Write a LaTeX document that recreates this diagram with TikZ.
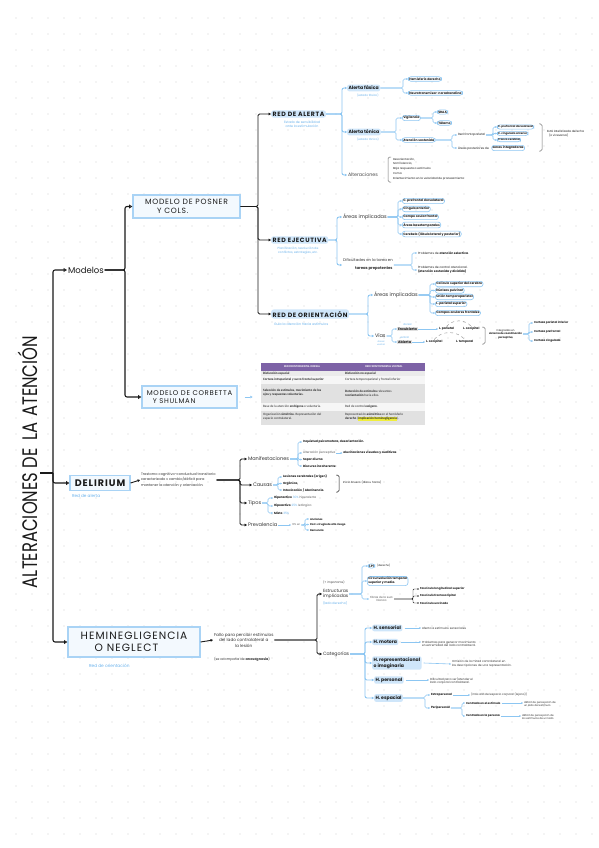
\documentclass[tikz,border=0pt]{standalone}
\usepackage{fontspec}
\usepackage{graphicx}
\setmainfont{Poppins}
\newfontfamily\tabfont{Carlito}
\newfontfamily\handcaps[LetterSpace=10]{Poppins}
\usetikzlibrary{arrows.meta,calc}
\definecolor{lb}{HTML}{8CC6F2}
\definecolor{hlb}{HTML}{CFE6FA}
\definecolor{bluetxt}{HTML}{6AB2EC}
\definecolor{boxb}{HTML}{A9D3F5}
\definecolor{boxf}{HTML}{F3F9FE}
\definecolor{dotc}{HTML}{D0D0D0}
\definecolor{purp}{HTML}{7D62A6}
\definecolor{tga}{HTML}{EBEBEB}
\definecolor{tgb}{HTML}{F6F6F6}
\definecolor{tgc}{HTML}{E1E1E1}
\definecolor{yel}{HTML}{F0EE3C}
\definecolor{ink}{HTML}{1A1A1A}
\definecolor{gtx}{HTML}{5A5A5A}
\newcommand\sz[2]{\fontsize{#1}{#2}\selectfont}
\newcommand\conn[4]{\draw[#1] (#2.east) -- (#2.east -| #3) |- (#4.west);}
\begin{document}
\begin{tikzpicture}[x=1pt,y=-1pt,
 t/.style={anchor=west, inner sep=0.8pt, text=ink, align=left},
 btx/.style={t, text=bluetxt},
 hl/.style={t, fill=hlb, rounded corners=2pt, inner sep=1.4pt, font=\bfseries\sz{4.6}{5.6}},
 net/.style={t, fill=hlb, rounded corners=2.5pt, inner sep=1.5pt, font=\handcaps\bfseries\sz{6.2}{7}},
 ov/.style={t, draw=lb, line width=0.6pt, rounded corners=2.6pt, inner sep=1pt, font=\bfseries\sz{3.1}{3.8}},
 box/.style={draw=boxb, fill=boxf, line width=1.1pt, align=left, text=ink, inner sep=2pt},
 mainarr/.style={draw=ink, line width=1.1pt, rounded corners=2pt, -{Triangle[open,length=3.4pt,width=3.8pt]}},
 blk/.style={draw=ink, line width=0.9pt, rounded corners=1.5pt, -{Triangle[length=2.4pt,width=2.6pt]}},
 tarr/.style={draw=ink, line width=0.45pt, rounded corners=1pt, -{Triangle[length=1.5pt,width=1.6pt]}},
 bl/.style={draw=lb, line width=0.9pt, rounded corners=2pt, -{Triangle[length=2.2pt,width=2.4pt]}},
 bls/.style={draw=lb, line width=0.6pt, rounded corners=1.5pt, -{Triangle[length=1.6pt,width=1.8pt]}},
 tb/.style={anchor=west, inner sep=0, align=left, font=\tabfont\sz{3.3}{4.1}, text=black!85},
 th/.style={inner sep=0, font=\tabfont\bfseries\sz{2.8}{3.2}, text=white},
 gbr/.style={draw=black!55, line width=0.5pt, rounded corners=1.5pt}
]
\useasboundingbox (0,0) rectangle (599,848);
\fill[white] (0,0) rectangle (599,848);
\foreach \i in {1,...,37}{\foreach \j in {1,...,52}{\fill[dotc] (16*\i,16*\j+2) circle[radius=0.65pt];}}
% bracket x positions
\coordinate (sp) at (53,473);
\coordinate (mbx) at (125,0);
\coordinate (pbx) at (258,0);
\coordinate (rax) at (342,0);
\coordinate (afx) at (403,0);
\coordinate (atx) at (396,0);
\coordinate (vgx) at (433,0);
\coordinate (asx) at (452,0);
\coordinate (rfx) at (493,0);
\coordinate (rex) at (337,0);
\coordinate (aix) at (398,0);
\coordinate (difx) at (412,0);
\coordinate (rox) at (368,0);
\coordinate (aiy) at (430,0);
\coordinate (viax) at (392,0);
\coordinate (isx) at (529,0);
\coordinate (dlx) at (240,0);
\coordinate (manx) at (298,0);
\coordinate (caux) at (278,0);
\coordinate (tipx) at (268,0);
\coordinate (prx) at (305,0);
\coordinate (hex) at (317,0);
\coordinate (estx) at (362,0);
\coordinate (fibx) at (413,0);
\coordinate (catx) at (365,0);
\coordinate (hesx) at (425,0);
\coordinate (perx) at (462,0);
% title
\node[rotate=90, inner sep=0, text=ink] (T) at (28,462) {\scalebox{0.78}[1]{\sz{21}{21}ALTERACIONES DE\hspace{10pt}LA\hspace{7pt}ATENCIÓN}};
\draw[draw=ink, line width=1.1pt] ([xshift=2pt]T.south |- sp) -- (sp);
% level 1
\node[t, font=\sz{8.5}{9}] (mod) at (67,270) {Modelos};
\node[box, minimum width=107pt, minimum height=23pt, font=\handcaps\sz{7.6}{9}] (pos) at (186.5,206.5) {MODELO DE POSNER\\\hspace{12pt}Y COLS.};
\node[box, minimum width=95pt, minimum height=22pt, font=\handcaps\sz{6.9}{8.4}] (cor) at (189.5,397) {MODELO DE CORBETTA\\\hspace{6pt}Y SHULMAN};
\node[box, minimum width=60pt, minimum height=15pt, font=\handcaps\bfseries\sz{9.5}{10}] (del) at (100,483) {DELIRIUM};
\node[btx, font=\sz{4.2}{5}] (dels) at (71,496) {Red de alerta};
\node[box, minimum width=132pt, minimum height=30pt, font=\handcaps\sz{10.6}{12}] (hem) at (134,642) {HEMINEGLIGENCIA\\\hspace{14pt}O NEGLECT};
\node[btx, font=\sz{4.3}{5}] (hems) at (88,666) {Red de orientación};
\draw[mainarr] (sp) |- (mod.west);
\draw[mainarr] (sp) |- (del.west);
\draw[mainarr] (sp) |- (hem.west);
\conn{mainarr}{mod}{mbx}{pos}
\conn{mainarr}{mod}{mbx}{cor}
% networks
\node[net] (ra) at (271,114) {RED DE ALERTA};
\node[btx, anchor=north, align=center, font=\sz{3.2}{4}] (ras) at (302,120) {Estado de sensibilidad\\ante la estimulación};
\node[net] (re) at (271,240) {RED EJECUTIVA};
\node[btx, anchor=north, align=center, font=\sz{3}{3.8}] (res) at (298,246) {Planificación, resolución de\\conflictos, estrategias, etc.};
\node[net] (ro) at (271,314) {RED DE ORIENTACIÓN};
\node[btx, font=\sz{3.3}{4}] (ros) at (273,324) {Guía la atención hacia estímulos};
\conn{blk}{pos}{pbx}{ra}
\conn{blk}{pos}{pbx}{re}
\conn{blk}{pos}{pbx}{ro}
% red de alerta
\node[hl] (af) at (347,88) {Alerta fásica};
\node[btx, font=\sz{2.8}{3.4}] (afs) at (356,95) {(estado fásico)};
\node[hl] (at) at (347,132) {Alerta tónica};
\node[btx, font=\sz{2.8}{3.4}] (ats) at (356,139) {(estado tónico)};
\node[t, text=black!70, font=\sz{4.8}{5.6}] (alt) at (347,175) {Alteraciones};
\conn{bl}{ra}{rax}{af}
\conn{bl}{ra}{rax}{at}
\conn{bl}{ra}{rax}{alt}
\node[ov] (hd) at (408,79) {Hemisferio derecho};
\node[ov] (nt) at (408,93) {Neurotransmisor: noradrenalina};
\conn{bls}{af}{afx}{hd}
\conn{bls}{af}{afx}{nt}
\node[ov] (vig) at (402,118) {Vigilancia};
\node[ov] (aso) at (402,140) {Atención sostenida};
\conn{bls}{at}{atx}{vig}
\conn{bls}{at}{atx}{aso}
\node[ov] (sraa) at (437,112) {SRAA};
\node[ov] (tal) at (437,123) {Tálamo};
\conn{bls}{vig}{vgx}{sraa}
\conn{bls}{vig}{vgx}{tal}
\node[t, font=\sz{3}{3.6}] (rfp) at (457,135) {Red frontoparietal};
\node[t, font=\sz{3}{3.6}] (apd) at (457,148) {Áreas posteriores de};
\node[ov] (zi) at ([xshift=1.5pt]apd.east) {zonas integradoras};
\conn{bls}{aso}{asx}{rfp}
\conn{bls}{aso}{asx}{apd}
\node[ov, font=\bfseries\sz{2.7}{3.2}, inner sep=0.7pt] (c1) at (497,127) {C. prefrontal dorsolateral};
\node[ov, font=\bfseries\sz{2.7}{3.2}, inner sep=0.7pt] (c2) at (497,133.5) {C. cingulado anterior};
\node[ov, font=\bfseries\sz{2.7}{3.2}, inner sep=0.7pt] (c3) at (497,140) {Tronco cerebral};
\conn{bls}{rfp}{rfx}{c1}
\conn{bls}{rfp}{rfx}{c2}
\conn{bls}{rfp}{rfx}{c3}
\draw[gbr] (539,124) -| (542,151) -- (539,151);
\node[t, font=\sz{2.9}{3.8}] (lat) at (546,134) {Está lateralizada derecha\\\hspace{2pt}(o viceversa)};
\draw[gbr] (391,157) -| (388,182) -- (391,182);
\node[t, font=\sz{2.8}{4.8}] (altl) at (392,169) {Desorientación,\\Somnolencia,\\Baja respuesta a estímulos\\Coma\\Enlentecimiento en la velocidad de procesamiento};
% red ejecutiva
\node[t, text=black!80, font=\sz{5}{6}] (ai1) at (342,217) {Áreas implicadas};
\node[t, text=black!80, font=\sz{3.8}{8}] (dif) at (342,265) {Dificultades en la tarea en\\\hspace{12pt}\textbf{tareas prepotentes}};
\conn{bl}{re}{rex}{ai1}
\conn{bl}{re}{rex}{dif}
\node[ov] (e1) at (402,201) {C. prefrontal dorsolateral};
\node[ov] (e2) at (402,209) {Cíngulo anterior};
\node[ov] (e3) at (402,217) {Campo ocular frontal};
\node[ov] (e4) at (402,225) {Áreas basotemporales};
\node[ov] (e5) at (402,234) {Cerebelo (lóbulo lateral y posterior)};
\conn{bls}{ai1}{aix}{e1}
\conn{bls}{ai1}{aix}{e2}
\conn{bls}{ai1}{aix}{e3}
\conn{bls}{ai1}{aix}{e4}
\conn{bls}{ai1}{aix}{e5}
\node[t, font=\sz{3}{3.8}] (d1) at (417,253) {Problemas de \textbf{atención selectiva}.};
\node[t, font=\sz{3}{3.8}] (d2) at (417,270) {Problemas de control atencional.\\\textbf{(atención sostenida y dividida)}};
\conn{bls}{dif}{difx}{d1}
\conn{bls}{dif}{difx}{d2}
% red de orientacion
\node[t, text=black!80, font=\sz{5}{6}] (ai2) at (373,295) {Áreas implicadas};
\node[t, text=black!80, font=\sz{5}{6}] (vias) at (374,336) {Vías};
\node[btx, anchor=north, align=center, font=\sz{2.2}{2.7}] (viass) at (381,340) {dorsal\\ventral};
\conn{bl}{ro}{rox}{ai2}
\conn{bl}{ro}{rox}{vias}
\node[ov] (o1) at (435,284) {Colículo superior del cerebro};
\node[ov] (o2) at (435,290.5) {Núcleos pulvinar};
\node[ov] (o3) at (435,297) {Unión temporoparietal};
\node[ov] (o4) at (435,304) {L. parietal superior};
\node[ov] (o5) at (435,313) {Campos oculares frontales};
\conn{bls}{ai2}{aiy}{o1}
\conn{bls}{ai2}{aiy}{o2}
\conn{bls}{ai2}{aiy}{o3}
\conn{bls}{ai2}{aiy}{o4}
\conn{bls}{ai2}{aiy}{o5}
\node[t, fill=black!12, font=\bfseries\sz{3.4}{4}] (enc) at (397,329) {Encubierta};
\node[btx, anchor=south, font=\sz{2.6}{3}] (encl) at ([yshift=0.5pt]enc.north) {dorsal};
\node[t, fill=black!12, font=\bfseries\sz{3.4}{4}] (abi) at (397,342) {Abierta};
\node[btx, anchor=south, font=\sz{2.6}{3}] (abil) at ([yshift=0.5pt]abi.north) {ventral};
\conn{bls}{vias}{viax}{enc}
\conn{bls}{vias}{viax}{abi}
\node[t, font=\bfseries\sz{3}{3.6}] (lp) at (438,329) {L. parietal};
\node[t, font=\bfseries\sz{3}{3.6}] (lo1) at (462,329) {L. occipital};
\node[t, font=\bfseries\sz{3}{3.6}] (lo2) at (425,342) {L. occipital};
\node[t, font=\bfseries\sz{3}{3.6}] (lt) at (455,342) {L. temporal};
\draw[bls] (enc.east) -- (lp.west);
\draw[bls] (abi.east) -- (lo2.west);
\draw[black!45, dashed, line width=0.4pt] (lp.north) to[bend left=50] (lo1.north);
\draw[black!45, dashed, line width=0.4pt] (lo2.north) to[bend left=50] (lt.north);
\draw[gbr] (482,327) -| (485,344) -- (482,344);
\node[t, align=center, font=\sz{2.6}{3.4}] (isp) at (488,334) {Integradas en\\\textbf{sistema de coordinación}\\\textbf{perceptivo}};
\node[t, font=\bfseries\sz{2.8}{3.4}] (k1) at (533,323) {Corteza parietal inferior};
\node[t, font=\bfseries\sz{2.8}{3.4}] (k2) at (533,332) {Corteza prefrontal};
\node[t, font=\bfseries\sz{2.8}{3.4}] (k3) at (533,341) {Corteza cingulada};
\conn{bls}{isp}{isx}{k1}
\conn{bls}{isp}{isx}{k2}
\conn{bls}{isp}{isx}{k3}
% table
\fill[purp] (261,363) rectangle (425,370.5);
\fill[tga] (261,370.5) rectangle (425,376);
\fill[tgb] (261,376) rectangle (425,384);
\fill[tgc] (261,384) rectangle (425,402.5);
\fill[tgb] (261,402.5) rectangle (425,410.5);
\fill[tgc] (261,410.5) rectangle (425,425);
\node[anchor=north west, minimum width=164pt, minimum height=62pt, inner sep=0] (tab) at (261,363) {};
\node[th] (h1) at (302,366.8) {RED FRONTOPARIETAL DORSAL};
\node[th] (h2) at (384,366.8) {RED FRONTOPARIETAL VENTRAL};
\node[tb] (a1) at (263,373.3) {\textbf{Disfunción espacial}};
\node[tb] (b1) at (345,373.3) {\textbf{Disfunción no espacial}};
\node[tb] (a2) at (263,380) {\textbf{Corteza intraparietal y surco frontal superior}};
\node[tb] (b2) at (345,380) {Corteza temporoparietal y frontal inferior};
\node[tb] (a3) at (263,393) {\textbf{Selección de estímulos, movimiento de los}\\\textbf{ojos y respuestas voluntarias.}};
\node[tb] (b3) at (345,393) {\textbf{Detección de estímulos} relevantes\\\textbf{reorientación} hacia ellos.};
\node[tb] (a4) at (263,406.5) {Base de la atención \textbf{endógena} o voluntaria.};
\node[tb] (b4) at (345,406.5) {Red de control \textbf{exógeno}.};
\node[tb] (a5) at (263,417) {Organización \textbf{simétrica}. Representación del\\espacio contralateral.};
\node[tb] (b5) at (345,417) {Representación \textbf{asimétrica} en el hemisferio\\\textbf{derecho} ({\setlength{\fboxsep}{0.2pt}\colorbox{yel}{\textbf{implicación heminegligencia}}}).};
\draw[bl] ($(cor.east)+(7,0)$) -- ($(cor.east)+(15,0)$);
% delirium
\node[t, text=black!80, font=\sz{3.5}{5.5}] (dtx) at (140,480) {Trastorno cognitivo-conductual transitorio\\caracterizado x cambio/déficit para\\mantener la atención y orientación.};
\draw[blk] (del.east) -- (dtx.west);
\node[t, text=black!80, font=\sz{5}{6}] (man) at (247,459) {Manifestaciones};
\node[t, text=black!80, font=\sz{5}{6}] (cau) at (252,485) {Causas};
\node[t, text=black!80, font=\sz{5}{6}] (tip) at (247,503) {Tipos};
\node[t, text=black!80, font=\sz{5}{6}] (pre) at (247,525) {Prevalencia};
\conn{blk}{dtx}{dlx}{man}
\conn{blk}{dtx}{dlx}{cau}
\conn{blk}{dtx}{dlx}{tip}
\conn{blk}{dtx}{dlx}{pre}
\node[t, font=\bfseries\sz{3}{3.6}] (m1) at (302,442) {Inquietud psicomotora, desorientación.};
\node[t, text=gtx, font=\sz{3}{3.6}] (m2) at (302,453) {Alteración perceptiva};
\node[t, font=\bfseries\sz{3}{3.6}] (m2b) at ([xshift=6pt]m2.east) {alucinaciones visuales y auditivas};
\draw[bls] (m2.east) -- (m2b.west);
\node[t, font=\bfseries\sz{3}{3.6}] (m3) at (302,459.5) {Sopor diurno};
\node[t, font=\bfseries\sz{3}{3.6}] (m4) at (302,466) {Discurso incoherente};
\conn{bls}{man}{manx}{m1}
\conn{bls}{man}{manx}{m2}
\conn{bls}{man}{manx}{m3}
\conn{bls}{man}{manx}{m4}
\node[t, font=\bfseries\sz{3}{3.6}] (c1a) at (282,477) {Lesiones cerebrales (origen)};
\node[t, font=\bfseries\sz{3}{3.6}] (c2a) at (282,483.5) {Orgánica,};
\node[t, font=\bfseries\sz{3}{3.6}] (c3a) at (282,490) {Intoxicación / Abstinencia.};
\conn{bls}{cau}{caux}{c1a}
\conn{bls}{cau}{caux}{c2a}
\conn{bls}{cau}{caux}{c3a}
\draw[draw=ink, line width=0.5pt, rounded corners=1.5pt] (336,475) -| (339,492) -- (336,492);
\node[t, font=\sz{2.8}{3.4}] (cb) at (342,482) {Inicio brusco (días u horas)};
\node[t, font=\sz{3}{3.6}] (t1) at (273,498) {\textbf{Hiperactivo} \textcolor{bluetxt}{30\%} \textcolor{gtx}{hiperalerta}};
\node[t, font=\sz{3}{3.6}] (t2) at (273,506) {\textbf{Hipoactivo} \textcolor{bluetxt}{25\%} \textcolor{gtx}{letárgico}};
\node[t, font=\sz{3}{3.6}] (t3) at (273,513) {\textbf{Mixto} \textcolor{bluetxt}{35\%}};
\conn{bls}{tip}{tipx}{t1}
\conn{bls}{tip}{tipx}{t2}
\conn{bls}{tip}{tipx}{t3}
\node[t, text=gtx, font=\sz{2.6}{3.2}] (p10) at (291,525) {10\% en};
\draw[bls] (pre.east) -- (p10.west);
\node[t, font=\bfseries\sz{2.6}{3.2}] (pa) at (309,519) {Ancianos};
\node[t, font=\bfseries\sz{2.6}{3.2}] (pb) at (309,524.5) {Post-cirugía de alto riesgo};
\node[t, font=\bfseries\sz{2.6}{3.2}] (pc) at (309,530) {Demencia};
\conn{bls}{p10}{prx}{pa}
\conn{bls}{p10}{prx}{pb}
\conn{bls}{p10}{prx}{pc}
% heminegligencia
\node[t, align=center, text=black!80, font=\sz{4.2}{5.6}] (htx) at (213,640) {Fallo para percibir estímulos\\del lado contralateral a\\la lesión};
\node[t, text=black!80, font=\sz{3.4}{4}] (hno) at (213,659) {(se acompaña de \textbf{anosognosia})};
\draw[blk] (hem.east) -- (htx.west);
\node[t, text=black!75, font=\sz{2.9}{3.4}] (imp) at (322,583) {(+ importante)};
\node[t, text=black!80, font=\sz{4.5}{5}] (est) at (322,594) {Estructuras\\implicadas};
\node[btx, font=\sz{3.2}{3.8}] (ests) at (322,603) {(lado derecho)};
\node[t, text=black!80, font=\sz{4.7}{5.4}] (cat) at (322,654) {Categorías};
\conn{blk}{htx}{hex}{est}
\conn{blk}{htx}{hex}{cat}
\node[ov, font=\bfseries\sz{3.2}{3.8}] (s1) at (368,566) {LPI};
\node[t, font=\sz{2.6}{3}] (s1b) at ([xshift=1pt]s1.east) {(derecho)};
\node[ov, font=\bfseries\sz{3}{3.8}] (s2) at (367,581) {Circunvolución temporal\\superior y media.};
\node[t, align=center, text=gtx, font=\sz{2.8}{3.6}] (s3) at (369,599) {Fibras de la sust.\\blanca};
\conn{bls}{est}{estx}{s1}
\conn{bls}{est}{estx}{s2}
\conn{bls}{est}{estx}{s3}
\node[t, font=\bfseries\sz{2.8}{3.4}] (f1) at (419,589) {Fascículo longitudinal superior};
\node[t, font=\bfseries\sz{2.8}{3.4}] (f2) at (419,596) {Fascículo frontooccipital};
\node[t, font=\bfseries\sz{2.8}{3.4}] (f3) at (419,603) {Fascículo uncinado};
\conn{tarr}{s3}{fibx}{f1}
\conn{tarr}{s3}{fibx}{f2}
\conn{tarr}{s3}{fibx}{f3}
\node[hl] (hs) at (372,628) {H. sensorial};
\node[hl] (hm) at (372,642) {H. motora};
\node[hl] (hr) at (372,663) {H. representacional\\o imaginaria};
\node[hl] (hp) at (374,680) {H. personal};
\node[hl] (he) at (374,698) {H. espacial};
\conn{bl}{cat}{catx}{hs}
\conn{bl}{cat}{catx}{hm}
\conn{bl}{cat}{catx}{hr}
\conn{bl}{cat}{catx}{hp}
\conn{bl}{cat}{catx}{he}
\node[t, text=black!80, font=\sz{2.9}{3.6}] (hsd) at (421,628) {Afecta a estímulos sensoriales};
\node[t, text=black!80, font=\sz{2.9}{3.6}] (hmd) at (421,644) {Problemas para generar movimiento\\en extremidad del lado contralateral.};
\node[t, text=black!80, font=\sz{2.9}{3.6}] (hrd) at (451,664) {Omisión de la mitad contralateral en\\las descripciones de una representación.};
\node[t, text=black!80, font=\sz{2.9}{3.6}] (hpd) at (429,681) {Dificultad para ver/atender el\\lado corporal contralateral.};
\draw[bls] ([xshift=2pt]hs.east) -- (hsd.west);
\draw[bls] ([xshift=2pt]hm.east) -- (hm.east -| hmd.west);
\draw[bls] ([xshift=2pt]hr.east) -- (hrd.west);
\draw[bls] ([xshift=2pt]hp.east) -- (hp.east -| hpd.west);
\node[t, font=\bfseries\sz{2.9}{3.4}] (ext) at (430,695) {Extrapersonal};
\node[t, font=\bfseries\sz{2.9}{3.4}] (per) at (430,708) {Peripersonal};
\conn{bls}{he}{hesx}{ext}
\conn{bls}{he}{hesx}{per}
\node[t, text=black!80, font=\sz{2.8}{3.4}] (extd) at (470,695) {(más allá del espacio corporal (lejano))};
\draw[bls] (ext.east) -- (extd.west);
\node[t, font=\bfseries\sz{2.8}{3.4}] (ce) at (465,703) {Centrada en el estímulo};
\node[t, font=\bfseries\sz{2.8}{3.4}] (cp) at (465,716) {Centrada en la persona};
\conn{bls}{per}{perx}{ce}
\conn{bls}{per}{perx}{cp}
\node[t, text=black!80, font=\sz{2.6}{3.3}] (ced) at (523,704) {déficit de percepción de\\un lado del estímulo};
\node[t, text=black!80, font=\sz{2.6}{3.3}] (cpd) at (521,717) {déficit de percepción de\\los estímulos de un lado};
\draw[bls] (ce.east) -- (ce.east -| ced.west);
\draw[bls] (cp.east) -- (cp.east -| cpd.west);
\end{tikzpicture}
\end{document}
